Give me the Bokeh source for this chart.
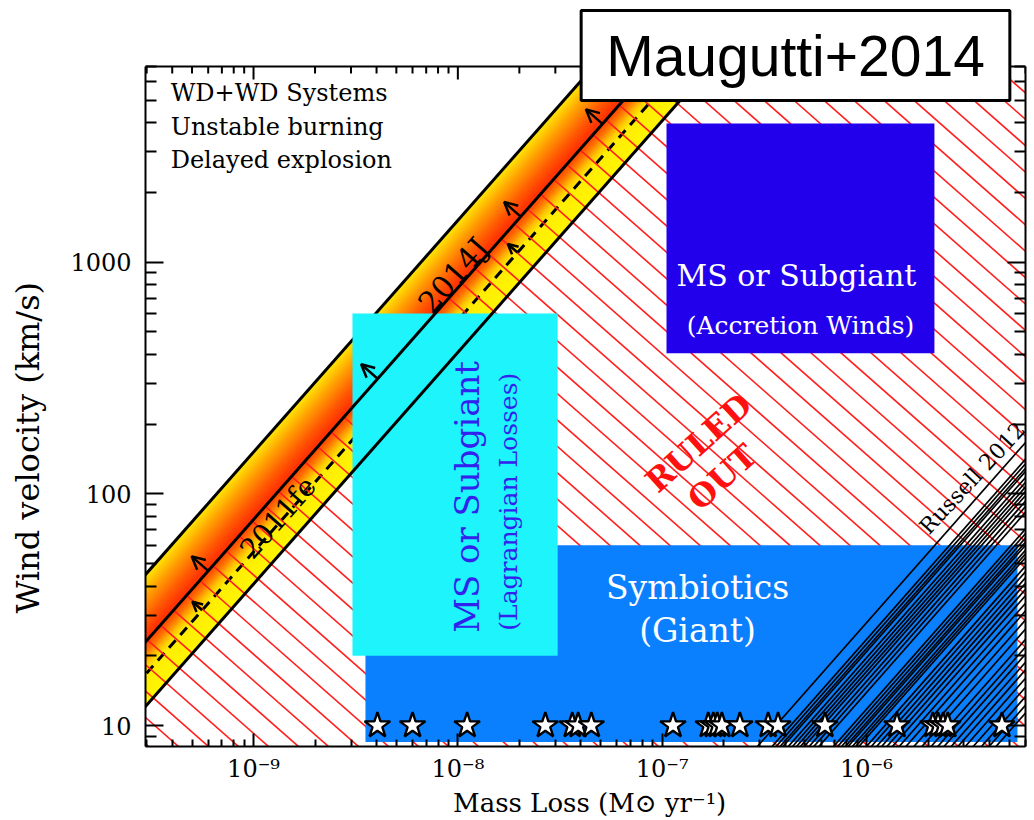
import numpy as np
from bokeh.plotting import figure
from bokeh.models import (Range1d, FixedTicker, CustomJSTickFormatter, LogAxis,
                          Label, Arrow, OpenHead, ColumnDataSource)
from bokeh.embed import file_html
from bokeh.resources import INLINE

# ---------------------------------------------------------------- data
MDOT_RANGE = (2.96e-10, 6.0e-6)     # Msun / yr
VW_RANGE = (8.12, 7000.0)           # km / s

# Constraint lines of constant Mdot / v_w, given as the Mdot allowed at 100 km/s
band_upper_100 = 6.6e-10
sn2014j_100 = 1.29e-9
sn2011fe_100 = 1.78e-9
band_lower_100 = 2.45e-9

# where the "allowed side" arrows sit along each constraint line (Mdot)
arrow_mdot_2014j = [6.0e-10, 4.05e-9, 2.03e-8, 5.1e-8]
arrow_mdot_2011fe = [5.6e-10, 1.96e-8, 9.1e-8]

# Russell 2012 limits: Mdot allowed at 10 km/s for each supernova
russell_mdot_10 = [3.6e-7,
                   4.25e-7, 4.45e-7, 4.65e-7, 4.8e-7,
                   5.1e-7, 5.35e-7, 5.6e-7, 5.85e-7, 6.1e-7, 6.45e-7, 6.8e-7, 7.2e-7,
                   8.5e-7, 8.9e-7, 9.3e-7, 9.7e-7, 1.0e-6, 1.05e-6, 1.09e-6, 1.13e-6,
                   1.23e-6, 1.3e-6, 1.38e-6, 1.46e-6, 1.55e-6, 1.65e-6, 1.78e-6,
                   1.92e-6, 2.1e-6, 2.3e-6,
                   2.55e-6, 2.75e-6, 2.95e-6, 3.2e-6, 3.45e-6, 3.75e-6, 4.1e-6,
                   4.5e-6, 4.9e-6, 5.3e-6]

# symbiotic systems (stars)
star_mdot = [4.04e-9, 6.0e-9, 1.11e-8, 2.68e-8, 3.63e-8, 3.88e-8, 4.5e-8,
             1.13e-7, 1.68e-7, 1.78e-7, 1.86e-7, 1.96e-7, 2.4e-7, 3.3e-7, 3.69e-7,
             6.26e-7, 1.41e-6, 2.11e-6, 2.24e-6, 2.37e-6, 2.5e-6, 4.6e-6]
star_vw = [10.0] * len(star_mdot)

# donor regions
region_names = ["symbiotic", "lagrangian", "accretion"]
region_mdot_lo = [3.53e-9, 3.05e-9, 1.05e-7]
region_mdot_hi = [5.48e-6, 3.08e-8, 2.15e-6]
region_vw_lo = [8.5, 20.0, 405.0]
region_vw_hi = [60.0, 600.0, 3970.0]
region_colors = ["#0a80ff", "#1ef4fc", "#2300eb"]

x_major = [1e-9, 1e-8, 1e-7, 1e-6]
y_major = [10, 100, 1000]

# ---------------------------------------------------------------- layout
W, H = 1034, 820
BL, BR, BB = 145, 9, 73
AXIS_TOP_PX = 66                  # top axis sits this far below the page top
BT = 6                            # frame reaches up here so the title box is not clipped
FW = W - BL - BR
AXH = H - AXIS_TOP_PX - BB        # height of the axes box
ppd_x = FW / np.log10(MDOT_RANGE[1] / MDOT_RANGE[0])   # px per decade
ppd_y = AXH / np.log10(VW_RANGE[1] / VW_RANGE[0])
y_frame_top = VW_RANGE[1] * 10 ** ((AXIS_TOP_PX - BT) / ppd_y)
LV_TOP = np.log10(VW_RANGE[1])

x_minor = [k * 10.0 ** e for e in range(-10, -5) for k in range(2, 10)
           if MDOT_RANGE[0] <= k * 10.0 ** e <= MDOT_RANGE[1]]
y_minor = [k * 10.0 ** e for e in range(0, 4) for k in range(2, 10)
           if VW_RANGE[0] <= k * 10.0 ** e <= VW_RANGE[1]]

SERIF = "DejaVu Serif"
NBSP = "\u00a0"

p = figure(width=W, height=H, x_axis_type="log", y_axis_type="log",
           x_range=Range1d(*MDOT_RANGE), y_range=Range1d(VW_RANGE[0], y_frame_top),
           output_backend="svg", toolbar_location=None,
           min_border_left=BL, min_border_right=BR,
           min_border_top=BT, min_border_bottom=BB)
p.grid.visible = False
p.outline_line_color = None
p.background_fill_color = "white"
p.border_fill_color = "white"


def style_axis(ax, major_in, minor_in):
    ax.axis_line_width = 2
    ax.axis_line_color = "black"
    ax.major_tick_in = major_in
    ax.major_tick_out = 0
    ax.minor_tick_in = minor_in
    ax.minor_tick_out = 0
    ax.major_tick_line_width = 2
    ax.minor_tick_line_width = 2
    ax.major_tick_line_color = "black"
    ax.minor_tick_line_color = "black"
    ax.major_label_text_font = SERIF
    ax.major_label_text_font_size = "24px"
    ax.major_label_text_color = "black"
    ax.axis_label_text_color = "black"


sup_code = """
const e = Math.round(Math.log10(tick));
const sup = {"-": "\u207b", "0": "\u2070", "1": "\u00b9", "2": "\u00b2", "3": "\u00b3",
             "4": "\u2074", "5": "\u2075", "6": "\u2076", "7": "\u2077", "8": "\u2078", "9": "\u2079"};
return "10" + String(e).split("").map(c => sup[c]).join("");
"""

xa = p.xaxis[0]
xa.ticker = FixedTicker(ticks=x_major, minor_ticks=x_minor)
xa.formatter = CustomJSTickFormatter(code=sup_code)
style_axis(xa, 13, 7)
xa.major_label_standoff = 8
xa.axis_label = NBSP + "Mass Loss (M\u2299 yr\u207b\u00b9)"
xa.axis_label_text_font = SERIF
xa.axis_label_text_font_size = "26px"
xa.axis_label_text_font_style = "normal"
xa.axis_label_standoff = 2

ya = p.yaxis[0]
ya.ticker = FixedTicker(ticks=y_major, minor_ticks=y_minor)
ya.formatter = CustomJSTickFormatter(code="return tick.toFixed(0);")
style_axis(ya, 18, 11)
ya.bounds = VW_RANGE
ya.major_label_standoff = 14
# trailing no-break spaces keep the title centred on the lower part of the axis
ya.axis_label = "Wind velocity (km/s)" + NBSP * 14
ya.axis_label_text_font = SERIF
ya.axis_label_text_font_size = "32px"
ya.axis_label_text_font_style = "normal"
ya.axis_label_standoff = 20

blank = CustomJSTickFormatter(code="return '';")
right_ax = LogAxis(ticker=FixedTicker(ticks=y_major, minor_ticks=y_minor), formatter=blank,
                   bounds=VW_RANGE)
style_axis(right_ax, 18, 11)
right_ax.major_label_text_font_size = "0px"
right_ax.major_label_standoff = 0
p.add_layout(right_ax, "right")

# ---------------------------------------------------------------- WD+WD band (gradient)
lm_up = np.log10(band_upper_100)
lm_lo = np.log10(band_lower_100)
lm_j = np.log10(sn2014j_100)
lm_fe = np.log10(sn2011fe_100)
LX0 = -12.0


def top_x(lm):
    """log Mdot where a constant-Mdot/v line meets the top axis"""
    return LV_TOP - 2 + lm


stops_u = [lm_up - lm_j, -0.2, -0.1, -0.02, 0.0, 0.05, 0.1, lm_fe - lm_j, lm_lo - lm_j]
stops_g = [235, 165, 95, 50, 58, 115, 195, 236, 245]

edges = np.linspace(lm_up, lm_lo, 81)
band_xs, band_ys, band_cols = [], [], []
for a, b in zip(edges[:-1], edges[1:]):
    band_xs.append([10 ** LX0, 10 ** top_x(a), 10 ** top_x(b), 10 ** LX0])
    band_ys.append([10 ** (2 + LX0 - a), VW_RANGE[1], VW_RANGE[1], 10 ** (2 + LX0 - b)])
    g = int(round(np.interp(0.5 * (a + b) - lm_j, stops_u, stops_g)))
    band_cols.append("#ff%02x00" % g)
p.patches(band_xs, band_ys, fill_color=band_cols, line_color=band_cols, line_width=1)


def const_line(m100):
    lm = np.log10(m100)
    return [10 ** LX0, 10 ** top_x(lm)], [10 ** (2 + LX0 - lm), VW_RANGE[1]]


# upper edge of the band and the 2011fe limit sit below the donor boxes
ux, uy = const_line(band_upper_100)
p.line(ux, uy, line_color="black", line_width=3)
fx, fy = const_line(sn2011fe_100)
p.line(fx, fy, line_color="black", line_width=3, line_dash="10 7")

# ---------------------------------------------------------------- ruled-out hatching
s = (ppd_x / ppd_y) ** 2          # slope in log space perpendicular on screen
c_j = 2 - lm_j                    # log v = log M + c_j along the 2014J line
step_b = s * 30.0 / ppd_x
b0 = np.log10(VW_RANGE[0]) + s * (np.log10(MDOT_RANGE[0]) + 3.0 / ppd_x)
hx, hy = [], []
for k in range(-2, 64):
    b = b0 + k * step_b
    l0 = max((b - c_j) / (1 + s), (b - LV_TOP) / s)
    l1 = l0 + 6
    hx.append([10 ** l0, 10 ** l1])
    hy.append([10 ** (b - s * l0), 10 ** (b - s * l1)])
p.multi_line(hx, hy, line_color="#ff1f1f", line_width=1.6)

# ---------------------------------------------------------------- donor regions
p.quad(left=region_mdot_lo, right=region_mdot_hi, bottom=region_vw_lo, top=region_vw_hi,
       fill_color=region_colors, line_color=None)

# 2014J limit and lower band edge over the boxes
jx, jy = const_line(sn2014j_100)
p.line(jx, jy, line_color="black", line_width=3)
lx, ly = const_line(band_lower_100)
p.line(lx, ly, line_color="black", line_width=3)

# ---------------------------------------------------------------- Russell 2012 limits
rx = [[m * 0.1, m * 1e3] for m in russell_mdot_10]
ry = [[1.0, 1e4] for _ in russell_mdot_10]
p.multi_line(rx, ry, line_color="black", line_width=1.7)

# ---------------------------------------------------------------- symbiotic systems
p.scatter(star_mdot, star_vw, marker="star", size=27, fill_color="white",
          line_color="black", line_width=2.4)

# ---------------------------------------------------------------- blank strip above the axes box
p.quad(left=MDOT_RANGE[0] / 10, right=MDOT_RANGE[1] * 10, bottom=VW_RANGE[1], top=1e6,
       fill_color="white", line_color=None)

# top axis: rule and inward ticks
p.segment(x0=[MDOT_RANGE[0]], y0=[VW_RANGE[1]], x1=[MDOT_RANGE[1]], y1=[VW_RANGE[1]],
          line_color="black", line_width=2)
maj_len = 10 ** (-13 / ppd_y)
min_len = 10 ** (-7 / ppd_y)
p.segment(x0=x_major, y0=[VW_RANGE[1]] * len(x_major), x1=x_major,
          y1=[VW_RANGE[1] * maj_len] * len(x_major), line_color="black", line_width=2)
p.segment(x0=x_minor, y0=[VW_RANGE[1]] * len(x_minor), x1=x_minor,
          y1=[VW_RANGE[1] * min_len] * len(x_minor), line_color="black", line_width=2)

# arrows toward the allowed side
ang = np.arctan(ppd_y / ppd_x)


def arrow_rows(mdots, m100, length):
    rows = {"x0": [], "y0": [], "x1": [], "y1": []}
    for m in mdots:
        lm = np.log10(m)
        lv = 2 + lm - np.log10(m100)
        rows["x0"].append(10 ** lm)
        rows["y0"].append(10 ** lv)
        rows["x1"].append(10 ** (lm - np.sin(ang) * length / ppd_x))
        rows["y1"].append(10 ** (lv + np.cos(ang) * length / ppd_y))
    return rows


for mdots, m100, length, size in [(arrow_mdot_2014j, sn2014j_100, 22, 13),
                                  (arrow_mdot_2011fe, sn2011fe_100, 13, 10)]:
    src = ColumnDataSource(arrow_rows(mdots, m100, length))
    p.add_layout(Arrow(x_start="x0", y_start="y0", x_end="x1", y_end="y1", source=src,
                       line_color="black", line_width=2.5,
                       end=OpenHead(size=size, line_color="black", line_width=2.5)))

# ---------------------------------------------------------------- labels
rot = float(ang)


def add_label(x, y, text, size, color="black", angle=0.0, align="center",
              font=SERIF, style="normal"):
    p.add_layout(Label(x=x, y=y, text=text, text_font=font, text_font_size=size,
                       text_color=color, angle=angle, text_align=align,
                       text_baseline="middle", text_font_style=style))


add_label(3.93e-10, 5350, "WD+WD Systems", "24px", align="left")
add_label(3.93e-10, 3820, "Unstable burning", "24px", align="left")
add_label(3.93e-10, 2750, "Delayed explosion", "24px", align="left")

add_label(4.54e-7, 879, "MS or Subgiant", "30px", color="white")
add_label(4.75e-7, 535, "(Accretion Winds)", "25px", color="white")

add_label(1.11e-8, 97, "MS or Subgiant", "34px", color="#3322ee", angle=np.pi / 2)
add_label(1.77e-8, 92.5, "(Lagrangian Losses)", "25px", color="#3322ee", angle=np.pi / 2)

add_label(1.49e-7, 39.4, "Symbiotics", "33px", color="white")
add_label(1.49e-7, 25.6, "(Giant)", "33px", color="white")

add_label(1.51e-7, 166, "RULED", "32px", color="#ff1010", angle=np.radians(42), style="bold")
add_label(1.97e-7, 118, "OUT", "32px", color="#ff1010", angle=np.radians(42), style="bold")

add_label(9.5e-9, 879, "2014J", "30px", angle=rot)
add_label(1.32e-9, 78.9, "2011fe", "28px", angle=rot)
add_label(3.3e-6, 117, "Russell 2012", "22px", angle=np.radians(47))

p.add_layout(Label(x=650, y=691, x_units="screen", y_units="screen",
                   text="Maugutti+2014", text_font="Liberation Sans",
                   text_font_size="57px", text_color="black",
                   text_align="center", text_baseline="middle",
                   background_fill_color="white", background_fill_alpha=1.0,
                   border_line_color="black", border_line_width=3,
                   padding=(25, 13)))

open("out.html", "w").write(file_html(p, INLINE))
